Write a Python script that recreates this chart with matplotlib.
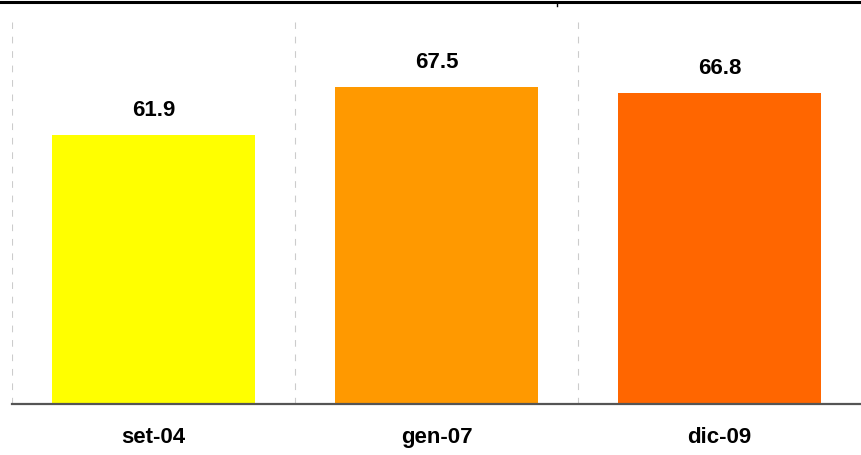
import matplotlib
matplotlib.use("Agg")
import matplotlib.pyplot as plt
from matplotlib.lines import Line2D

# data
periods = ['set-04', 'gen-07', 'dic-09']
values = [61.9, 67.5, 66.8]
colors = ['#FFFF00', '#FF9900', '#FF6600']

plt.rcParams['font.family'] = ['Liberation Sans', 'DejaVu Sans']

W, H = 861, 455
fig = plt.figure(figsize=(W / 100, H / 100), dpi=100)
ax = fig.add_axes([12 / W, (H - 404) / H, 1 - 12 / W, (404 - 22) / H])

x = list(range(len(periods)))
ax.bar(x, values, width=0.72, color=colors, zorder=2)

ax.set_xlim(-0.5, len(periods) - 0.5)
ax.set_ylim(30.5, 75.1)

# value labels
for xi, v in zip(x, values):
    ax.annotate(f'{v:.1f}', (xi, v), xytext=(0, 13.5), textcoords='offset points',
                ha='center', va='baseline', fontsize=16, fontweight='bold')

# dashed separators between categories
for b in [-0.5, 0.5, 1.5]:
    ax.axvline(b, color='#cccccc', linestyle=(0, (6, 7)), linewidth=0.8, zorder=1)

ax.set_xticks(x)
ax.set_xticklabels(periods, fontsize=16, fontweight='bold')
ax.tick_params(axis='x', length=0, pad=16.5)
ax.set_yticks([])

for s in ['top', 'right', 'left']:
    ax.spines[s].set_visible(False)
ax.spines['bottom'].set_color('#555555')
ax.spines['bottom'].set_linewidth(1.6)

# black rule at the very top of the image
fig.add_artist(Line2D([0, 1], [1 - 2 / H, 1 - 2 / H], color='black', linewidth=2.2,
                      transform=fig.transFigure))
fig.add_artist(Line2D([557 / W, 557 / W], [1 - 2 / H, 1 - 6 / H], color='black',
                      linewidth=1.0, transform=fig.transFigure))

fig.savefig('out.png', dpi=100)
